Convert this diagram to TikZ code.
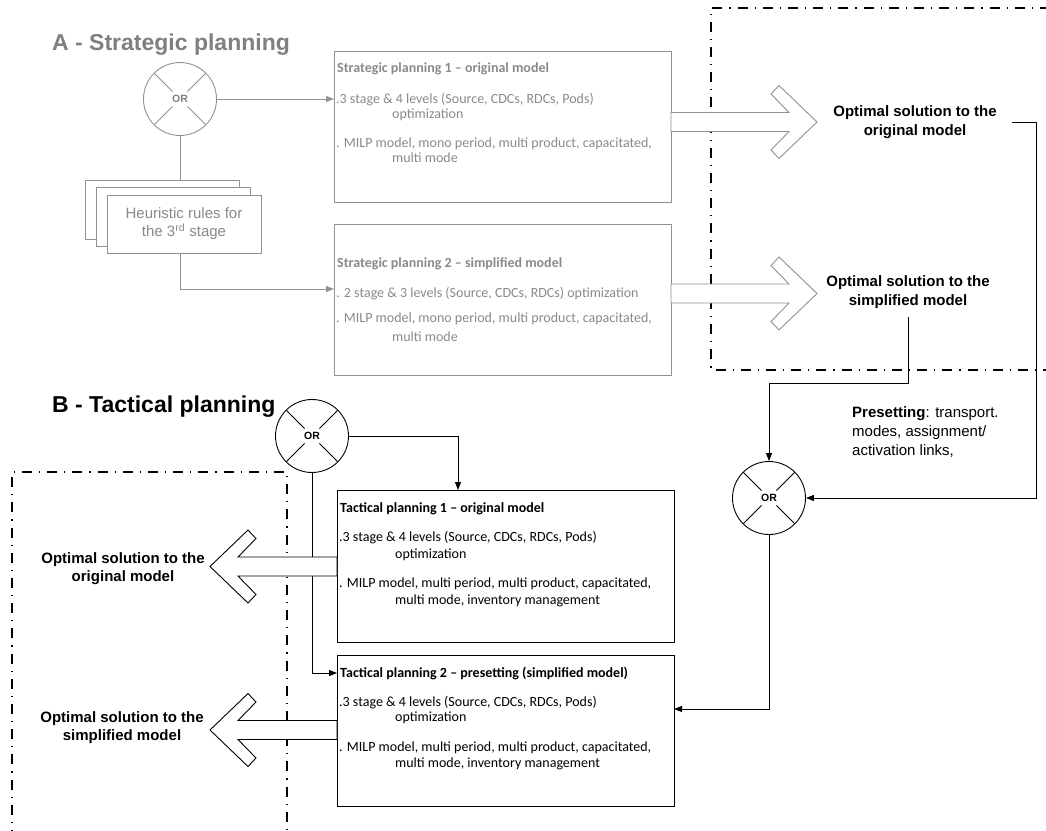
\documentclass[tikz,border=0pt]{standalone}
\usepackage{fontspec}
\setmainfont{Liberation Sans}
\newfontfamily\boxfont{Carlito}
\usetikzlibrary{arrows.meta,calc}
\definecolor{stgray}{RGB}{128,128,128}
\definecolor{stline}{RGB}{145,145,145}
\definecolor{sttext}{RGB}{138,138,138}

% hollow block arrow: style, tip position, direction (1 right / -1 left), shaft length
\newcommand\hollowarrow[4]{%
  \filldraw[#1,shift={#2},xscale=#3] (-#4,-9.5) -- (-28,-9.5) -- (-46,-28) -- (-38,-36.5)
    -- (0,0) -- (-38,36.5) -- (-46,28) -- (-28,9.5) -- (-#4,9.5) -- cycle;}

\begin{document}
\begin{tikzpicture}[x=1pt,y=-1pt,
  every node/.style={inner sep=0pt},
  ln/.style={line width=0.9pt},
  tip/.style={-{Triangle[length=8pt,width=6pt]}},
  frame/.style={line width=1.1pt, dash pattern=on 10pt off 7pt on 1.2pt off 7pt},
  pbox/.style={rectangle, draw, line width=0.9pt, fill=white, anchor=north west},
  orgate/.style={circle, draw, line width=0.9pt, minimum size=73pt, fill=white,
    font=\bfseries\fontsize{10.5}{10.5}\selectfont,
    path picture={\foreach \a in {45,135,225,315}
      {\draw[line width=0.9pt] ($(path picture bounding box.center)+(\a:10.5pt)$)
        -- ($(path picture bounding box.center)+(\a:40pt)$);}}},
  bt/.style={anchor=base west, font=\boxfont\fontsize{14}{14}\selectfont},
  sol/.style={align=center, font=\bfseries\fontsize{15}{18.5}\selectfont},
  ttl/.style={anchor=base west, font=\bfseries\fontsize{23}{23}\selectfont},
  harrowA/.style={fill=white, draw=stline, line width=0.9pt},
  harrowB/.style={fill=white, draw=black, line width=0.9pt}]
\useasboundingbox[fill=white] (0,0) rectangle (1046,830);

% dash-dot frames around the solution areas
\draw[frame] (1050,8) -- (711,8) -- (711,370) -- (1050,370);
\draw[frame] (12,840) -- (12,472) -- (287,472) -- (287,840);

% ---------------- A - Strategic planning ----------------
\node[ttl, text=stgray] (titleA) at (52,50) {A - Strategic planning};

\node[orgate, draw=stline, text=stgray] (oa) at (180,99) {OR};

\node[pbox, draw=stline, minimum width=154pt, minimum height=59pt] (hb1) at (85,180) {};
\node[pbox, draw=stline, minimum width=154pt, minimum height=59pt] (hb2) at (96,187) {};
\node[pbox, draw=stline, minimum width=154pt, minimum height=58pt] (hb3) at (107,195) {};
\node[align=center, text=sttext, font=\fontsize{15}{18}\selectfont] (heur) at (184,224)
  {Heuristic rules for\\the 3\textsuperscript{rd} stage};

\node[pbox, draw=stline, minimum width=337pt, minimum height=151pt] (s1) at (334,51) {};
\node[pbox, draw=stline, minimum width=337pt, minimum height=151pt] (s2) at (334,224) {};
\coordinate (s1in) at (334,99);
\coordinate (s2in) at (334,289);

\draw[ln, stline, tip] (oa.east) -- (s1in);
\draw[ln, stline] (oa.south) -- (oa.south |- hb1.north);
\draw[ln, stline, tip] (oa.south |- hb3.south) |- (s2in);

\foreach \x/\y/\t [count=\i] in {
    337/72.5/{\bfseries Strategic planning 1 – original model},
    336/103.5/{.3 stage \& 4 levels (Source, CDCs, RDCs, Pods)},
    392/118/{optimization},
    336/147.5/{. MILP model, mono period, multi product, capacitated,},
    392/162.5/{multi mode}}
  \node[bt, text=sttext] (s1l\i) at (\x,\y) {\t};

\foreach \x/\y/\t [count=\i] in {
    337/267.5/{\bfseries Strategic planning 2 – simplified model},
    336/297.5/{. 2 stage \& 3 levels (Source, CDCs, RDCs) optimization},
    336/322.5/{. MILP model, mono period, multi product, capacitated,},
    392/341.5/{multi mode}}
  \node[bt, text=sttext] (s2l\i) at (\x,\y) {\t};

\hollowarrow{harrowA}{(817,122)}{1}{146}
\hollowarrow{harrowA}{(817,293.5)}{1}{146}

\node[sol] (oA1) at (915,122) {Optimal solution to the\\original model};
\node[sol] (oA2) at (908,292) {Optimal solution to the\\simplified model};

% ---------------- B - Tactical planning ----------------
\node[ttl] (titleB) at (52,412) {B - Tactical planning};

\node[orgate] (orT) at (312,436) {OR};
\node[orgate] (orB) at (769,498) {OR};

\node[pbox, minimum width=337pt, minimum height=152pt] (t1) at (337,490) {};
\node[pbox, minimum width=337pt, minimum height=151pt] (t2) at (337,655) {};
\coordinate (t1in) at (458,490);
\coordinate (t2inL) at (337,673);
\coordinate (t2inR) at (674,709);
\coordinate (cornA) at (1036,122);
\coordinate (kneeB) at (769,383);

\draw[ln, tip] (orT.east) -| (t1in);
\draw[ln, tip] (orT.south) |- (t2inL);
\draw[ln, tip] ([xshift=15pt]oA1.east) -- (cornA) |- (orB.east);
\draw[ln, tip] ([yshift=-9pt]oA2.south) |- (kneeB) -- (orB.north);
\draw[ln, tip] (orB.south) |- (t2inR);

\foreach \x/\y/\t [count=\i] in {
    340/512.5/{\bfseries Tactical planning 1 – original model},
    339/541.5/{.3 stage \& 4 levels (Source, CDCs, RDCs, Pods)},
    395/558.5/{optimization},
    339/587.5/{. MILP model, multi period, multi product, capacitated,},
    395/604.5/{multi mode, inventory management}}
  \node[bt] (t1l\i) at (\x,\y) {\t};

\foreach \x/\y/\t [count=\i] in {
    340/677/{\bfseries Tactical planning 2 – presetting (simplified model)},
    339/706/{.3 stage \& 4 levels (Source, CDCs, RDCs, Pods)},
    395/721.5/{optimization},
    339/751.5/{. MILP model, multi period, multi product, capacitated,},
    395/767.5/{multi mode, inventory management}}
  \node[bt] (t2l\i) at (\x,\y) {\t};

\hollowarrow{harrowB}{(210,566.5)}{-1}{127}
\hollowarrow{harrowB}{(210,730)}{-1}{127}

\node[sol] (oB1) at (123,568.5) {Optimal solution to the\\original model};
\node[sol] (oB2) at (122,727.5) {Optimal solution to the\\simplified model};

\node[anchor=west, align=left, font=\fontsize{15}{19}\selectfont] (preset) at (852,432)
  {\textbf{Presetting}: transport.\\modes, assignment/\\activation links,};
\end{tikzpicture}
\end{document}
